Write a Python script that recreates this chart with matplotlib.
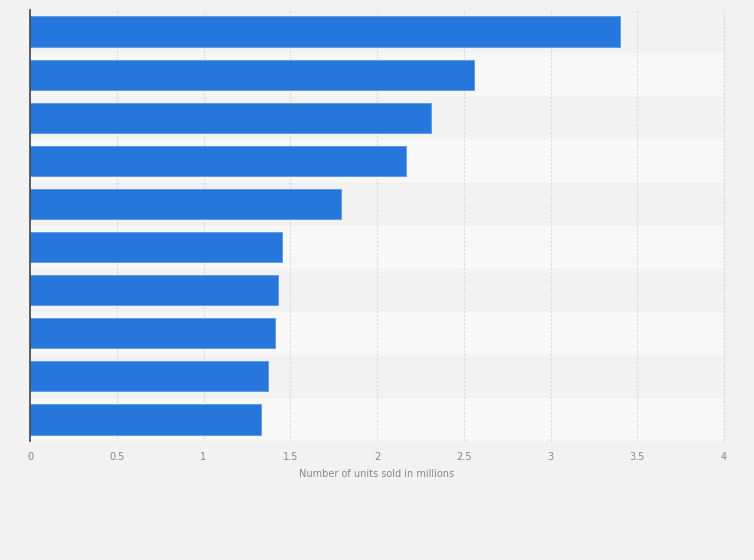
import matplotlib
matplotlib.use("Agg")
import matplotlib.pyplot as plt

categories = ["Item 1", "Item 2", "Item 3", "Item 4", "Item 5",
              "Item 6", "Item 7", "Item 8", "Item 9", "Item 10"]
values = [3.40, 2.56, 2.31, 2.17, 1.79, 1.45, 1.43, 1.41, 1.37, 1.33]
xticks = [0, 0.5, 1, 1.5, 2, 2.5, 3, 3.5, 4]
xticklabels = ["0", "0.5", "1", "1.5", "2", "2.5", "3", "3.5", "4"]
xlabel = "Number of units sold in millions"

BG = "#f2f2f2"
fig = plt.figure(figsize=(7.54, 5.60), dpi=100, facecolor=BG)
ax = fig.add_axes([30/754, 1-441/560, 694/754, 431/560])
ax.set_facecolor(BG)

n = len(categories)
ypos = list(range(n))
# alternating bands
for i in ypos:
    col = "#f2f2f2" if i % 2 == 0 else "#f8f8f8"
    ax.axhspan(i - 0.5, i + 0.5, color=col, zorder=0, lw=0)

ax.barh(ypos, values, height=0.70, color="#2776db", edgecolor="#5b97e6",
        linewidth=0.6, zorder=3)

ax.set_xlim(0, 4)
ax.set_ylim(n - 0.5, -0.5)
ax.set_xticks(xticks)
ax.set_xticklabels(xticklabels, fontsize=7, color="#888888")
ax.set_yticks([])
ax.tick_params(axis="x", length=0, pad=8)
ax.grid(axis="x", color="#d8d8d8", linestyle=(0, (2, 1.5)), linewidth=0.8, zorder=1)
ax.axvline(4, color="#d8d8d8", linestyle=(0, (2, 1.5)), linewidth=0.8, zorder=1,
           clip_on=False)
ax.set_axisbelow(True)
for s in ["top", "right", "bottom"]:
    ax.spines[s].set_visible(False)
ax.spines["left"].set_color("#444444")
ax.spines["left"].set_linewidth(1.2)
ax.spines["left"].set_zorder(5)
ax.set_xlabel(xlabel, fontsize=7, color="#888888", labelpad=5)

fig.savefig("out.png", dpi=100, facecolor=BG)
